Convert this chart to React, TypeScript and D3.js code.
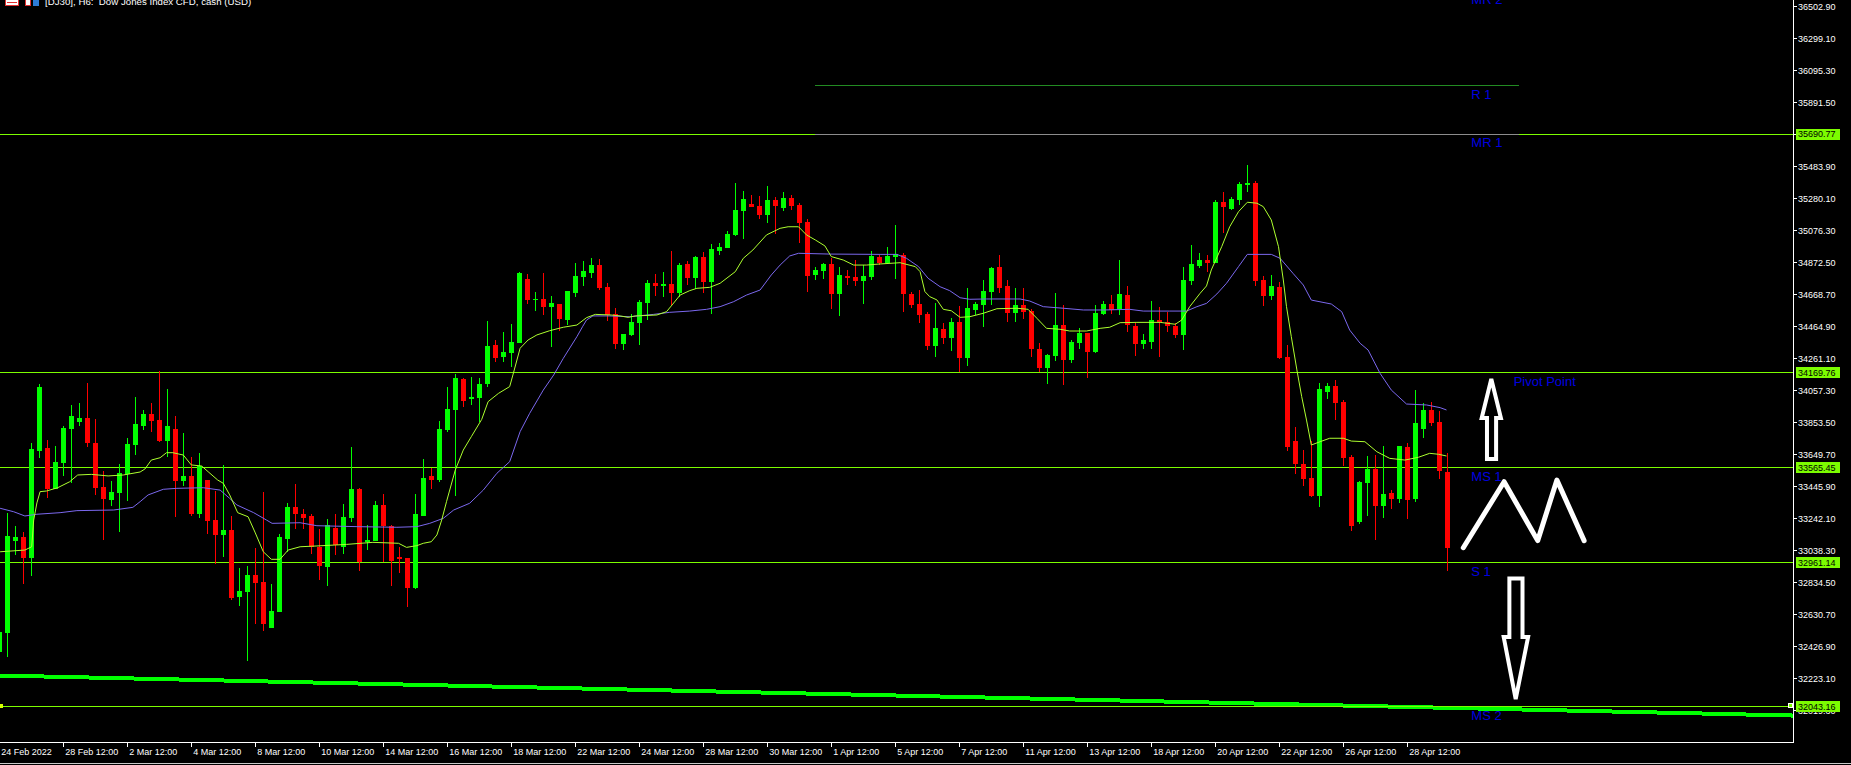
import * as d3 from "d3";

const W = 1851;
const H = 765;
const plotRight = 1793;
const plotBottom = 742;

// H6 candles, 24 Feb 2022 12:00 .. 29 Apr 2022
const opens = [
  32389, 32512, 33096, 33121, 32987, 33671, 33688, 33429, 33592, 33809,
  33854, 33879, 33720, 33440, 33357, 33401, 33522, 33707, 33828, 33904,
  33866, 33733, 33809, 33478, 33510, 33268, 33484, 33229, 33134, 33166,
  32739, 32771, 32879, 32835, 32542, 32643, 33108, 33312, 33268, 33255,
  33058, 32930, 33178, 33058, 33242, 33427, 33089, 33096, 33325, 33191,
  32994, 32987, 32796, 33255, 33510, 33484, 33803, 33930, 34127, 34000,
  34006, 34096, 34344, 34267, 34293, 34357, 34764, 34631, 34637, 34586,
  34605, 34503, 34675, 34777, 34802, 34853, 34713, 34541, 34350, 34408,
  34484, 34611, 34739, 34720, 34733, 34675, 34860, 34771, 34904, 34745,
  34943, 34962, 35045, 35197, 35242, 35229, 35172, 35267, 35216, 35280,
  35236, 35127, 34790, 34815, 34860, 34669, 34783, 34777, 34752, 34777,
  34904, 34866, 34904, 34917, 34669, 34605, 34541, 34338, 34446, 34389,
  34490, 34261, 34567, 34599, 34681, 34841, 34720, 34548, 34599, 34560,
  34318, 34197, 34274, 34471, 34248, 34357, 34420, 34299, 34541, 34605,
  34573, 34662, 34465, 34350, 34363, 34503, 34490, 34465, 34408, 34752,
  34847, 34885, 34866, 35255, 35210, 35267, 35363, 35376, 34758, 34656,
  34713, 34267, 33733, 33586, 33497, 33382, 34045, 34083, 33981, 33631,
  33217, 33465, 33554, 33318, 33401, 33363, 33694, 33363, 33809, 33930,
  33854, 33535,
];
const highs = [
  32542, 33272, 33191, 33153, 33720, 34096, 33739, 33700, 33828, 33962,
  33975, 34102, 33873, 33541, 33478, 33586, 33752, 34013, 33930, 33975,
  34178, 34064, 33892, 33784, 33631, 33656, 33484, 33414, 33580, 33255,
  32924, 32936, 33051, 33408, 32822, 33140, 33338, 33459, 33299, 33268,
  33172, 33236, 33268, 33331, 33694, 33433, 33198, 33350, 33395, 33198,
  33058, 32987, 33395, 33618, 33561, 33860, 34076, 34159, 34134, 34140,
  34134, 34497, 34376, 34427, 34478, 34809, 34796, 34681, 34802, 34656,
  34605, 34688, 34866, 34879, 34898, 34892, 34739, 34579, 34414, 34541,
  34631, 34758, 34796, 34809, 34943, 34866, 34879, 34911, 34936, 34987,
  34994, 35070, 35376, 35325, 35299, 35293, 35357, 35286, 35318, 35299,
  35248, 35146, 34841, 34866, 34898, 34841, 34822, 34885, 34853, 34943,
  34917, 34968, 35108, 34930, 34681, 34694, 34554, 34611, 34484, 34516,
  34592, 34707, 34618, 34758, 34841, 34917, 34758, 34707, 34707, 34573,
  34357, 34287, 34675, 34599, 34376, 34452, 34420, 34599, 34624, 34662,
  34885, 34720, 34484, 34414, 34624, 34586, 34554, 34484, 34841, 34981,
  34930, 34917, 35267, 35318, 35286, 35382, 35490, 35389, 34783, 34790,
  34745, 34344, 33822, 33675, 33733, 34102, 34102, 34121, 33994, 33643,
  33478, 33637, 33643, 33700, 33420, 33700, 33720, 34057, 33975, 33981,
  33923, 33656,
];
const lows = [
  32338, 32359, 33006, 32824, 32873, 33622, 33371, 33427, 33510, 33465,
  33828, 33696, 33389, 33102, 33319, 33153, 33350, 33643, 33803, 33790,
  33726, 33631, 33248, 33446, 33255, 33242, 33140, 32949, 32994, 32720,
  32682, 32331, 32567, 32522, 32542, 32643, 33026, 33172, 33172, 33013,
  32847, 32809, 33006, 33013, 33217, 32905, 33038, 33096, 32962, 32809,
  32892, 32675, 32790, 33255, 33427, 33471, 33790, 33382, 33949, 33962,
  33854, 34076, 34236, 34236, 34204, 34357, 34605, 34560, 34535, 34331,
  34433, 34471, 34650, 34720, 34771, 34694, 34497, 34318, 34312, 34401,
  34344, 34503, 34656, 34650, 34599, 34650, 34726, 34701, 34675, 34541,
  34917, 34962, 35038, 35019, 35223, 35146, 35121, 35051, 35197, 35204,
  34994, 34681, 34758, 34764, 34573, 34528, 34726, 34720, 34605, 34758,
  34853, 34866, 34764, 34554, 34579, 34484, 34312, 34267, 34350, 34306,
  34172, 34210, 34535, 34459, 34599, 34675, 34490, 34490, 34509, 34267,
  34172, 34096, 34242, 34089, 34229, 34318, 34134, 34293, 34535, 34541,
  34535, 34427, 34274, 34318, 34318, 34267, 34427, 34389, 34312, 34726,
  34834, 34809, 34866, 35057, 35204, 35236, 35318, 34720, 34592, 34631,
  34255, 33669, 33522, 33446, 33376, 33312, 34000, 33866, 33573, 33159,
  33204, 33255, 33102, 33242, 33299, 33338, 33236, 33344, 33752, 33828,
  33490, 32905,
];
const closes = [
  32516, 33127, 33121, 32987, 33682, 34076, 33427, 33599, 33815, 33892,
  33879, 33720, 33433, 33363, 33408, 33529, 33713, 33841, 33904, 33860,
  33733, 33828, 33478, 33510, 33268, 33573, 33223, 33134, 33166, 32733,
  32777, 32879, 32828, 32567, 32650, 33121, 33312, 33268, 33242, 33058,
  32936, 33198, 33070, 33248, 33427, 32962, 33102, 33325, 33191, 32968,
  32981, 32796, 33268, 33497, 33484, 33809, 33936, 34134, 33987, 34013,
  34096, 34338, 34261, 34299, 34363, 34802, 34631, 34637, 34586, 34611,
  34509, 34688, 34783, 34815, 34853, 34707, 34535, 34350, 34414, 34490,
  34618, 34739, 34720, 34733, 34675, 34853, 34771, 34904, 34745, 34955,
  34968, 35051, 35204, 35274, 35223, 35172, 35267, 35229, 35280, 35229,
  35121, 34783, 34822, 34860, 34669, 34790, 34771, 34752, 34783, 34911,
  34866, 34911, 34924, 34669, 34599, 34535, 34338, 34452, 34389, 34490,
  34261, 34579, 34605, 34688, 34834, 34707, 34548, 34599, 34554, 34318,
  34197, 34280, 34471, 34248, 34363, 34420, 34299, 34548, 34605, 34567,
  34669, 34471, 34350, 34376, 34503, 34490, 34465, 34408, 34758, 34860,
  34885, 34866, 35255, 35223, 35274, 35369, 35376, 34752, 34656, 34720,
  34261, 33694, 33586, 33490, 33382, 34064, 34083, 33975, 33624, 33191,
  33471, 33554, 33318, 33395, 33363, 33700, 33357, 33847, 33930, 33847,
  33541, 33051,
];

// moving averages: [bar, price]
const fastMA: [number, number][] = [
  [0.1, 33027], [3.2, 33038], [4.05, 33059], [4.3, 33229], [4.7, 33338], [5.1, 33410],
  [5.9, 33414], [7.3, 33435], [8.8, 33473], [9.8, 33516], [11.5, 33520], [13.6, 33510],
  [15.5, 33516], [17.6, 33535], [18.2, 33554], [19.0, 33611], [20.1, 33626], [20.9, 33658],
  [21.7, 33658], [23.0, 33643], [24.0, 33580], [25.3, 33573], [26.1, 33537], [27.3, 33484],
  [28.0, 33463], [28.8, 33389], [29.8, 33276], [31.1, 33250], [32.0, 33147], [33.0, 33027],
  [34.0, 32979], [35.1, 32979], [36.1, 33038], [37.6, 33059], [39.7, 33064], [43.4, 33074],
  [46.7, 33087], [49.9, 33081], [50.9, 33055], [52.2, 33066], [53.0, 33081], [54.0, 33091],
  [54.7, 33134], [55.3, 33229], [55.9, 33346], [57.0, 33548], [58.0, 33675], [59.0, 33760],
  [60.3, 33870], [61.1, 33983], [62.4, 34036], [63.8, 34079], [64.2, 34153], [65.1, 34323],
  [66.1, 34376], [67.2, 34408], [68.8, 34435], [70.5, 34457], [72.2, 34471], [73.4, 34518],
  [74.5, 34539], [76.5, 34535], [77.6, 34529], [78.6, 34520], [79.5, 34529], [82.2, 34535],
  [83.4, 34556], [84.1, 34599], [85.1, 34662], [86.3, 34690], [87.2, 34705], [88.8, 34711],
  [90.1, 34737], [92.0, 34811], [93.0, 34896], [94.2, 34949], [95.9, 35045], [97.6, 35087],
  [98.6, 35097], [99.9, 35097], [100.9, 35045], [102.0, 35013], [103.2, 34975], [104.0, 34907],
  [105.5, 34885], [106.8, 34853], [108.4, 34853], [110.1, 34860], [112.6, 34868], [114.5, 34843],
  [115.1, 34811], [115.7, 34684], [116.3, 34652], [117.2, 34631], [118.0, 34571], [119.0, 34562],
  [120.1, 34520], [121.3, 34524], [123.0, 34546], [124.7, 34575], [127.2, 34578], [128.6, 34571],
  [129.7, 34514], [130.9, 34450], [132.6, 34444], [133.8, 34433], [135.9, 34433], [137.6, 34450],
  [138.8, 34457], [140.1, 34486], [142.2, 34488], [145.1, 34488], [147.0, 34476], [147.8, 34503],
  [148.8, 34588], [150.1, 34673], [150.9, 34720], [151.5, 34822], [152.8, 34970], [153.8, 35097],
  [154.9, 35193], [156.0, 35253], [157.2, 35247], [158.0, 35225], [159.0, 35140], [159.9, 34970],
  [160.5, 34758], [160.9, 34588], [161.5, 34397], [162.2, 34185], [162.8, 34015], [163.4, 33866],
  [164.0, 33707], [165.1, 33728], [166.3, 33750], [168.0, 33750], [169.0, 33732], [170.7, 33728],
  [172.2, 33664], [173.8, 33622], [175.7, 33611], [177.4, 33629], [178.8, 33654], [179.9, 33648],
  [180.9, 33637],
];
const slowMA: [number, number][] = [
  [0.1, 33304], [1.8, 33282], [3.2, 33255], [4.7, 33266], [7.6, 33276], [9.7, 33289],
  [14.3, 33293], [16.7, 33310], [17.6, 33346], [18.6, 33389], [20.5, 33425], [22.2, 33431],
  [25.5, 33435], [27.6, 33420], [28.8, 33367], [29.7, 33325], [31.8, 33276], [33.4, 33229],
  [34.1, 33208], [37.6, 33212], [39.7, 33193], [44.7, 33187], [49.7, 33183], [52.2, 33187],
  [53.8, 33208], [55.5, 33240], [56.8, 33293], [58.8, 33336], [60.5, 33420], [62.2, 33527],
  [63.8, 33601], [65.1, 33792], [66.3, 33909], [68.0, 34057], [69.3, 34153], [70.5, 34259],
  [72.2, 34397], [72.9, 34460], [73.4, 34503], [74.2, 34529], [76.3, 34529], [78.8, 34524],
  [81.8, 34539], [83.8, 34552], [86.3, 34560], [88.4, 34571], [90.1, 34588], [91.8, 34620],
  [93.4, 34662], [95.1, 34694], [96.5, 34790], [97.6, 34853], [98.8, 34911], [99.9, 34928],
  [103.8, 34923], [110.1, 34921], [112.2, 34921], [113.4, 34896], [114.9, 34843], [116.1, 34769],
  [117.6, 34715], [118.8, 34690], [120.1, 34645], [121.3, 34635], [123.4, 34637], [127.6, 34637],
  [128.8, 34624], [130.5, 34588], [133.0, 34578], [135.5, 34567], [138.0, 34567], [141.3, 34571],
  [143.0, 34560], [146.3, 34560], [148.4, 34560], [149.7, 34588], [150.9, 34609], [152.2, 34669],
  [153.4, 34737], [154.9, 34843], [156.0, 34921], [159.0, 34921], [160.1, 34896], [161.7, 34801],
  [163.0, 34726], [164.0, 34630], [166.5, 34605], [167.8, 34556], [168.8, 34439], [170.1, 34355],
  [171.1, 34312], [172.6, 34163], [174.0, 34057], [175.9, 33968], [178.4, 33962], [180.1, 33945],
  [180.9, 33930],
];

// long trend line (thick)
const trendLine: [number, number][] = [[0, 32239], [224.2, 31984]];

// pivot levels
const levelNames = ["MR 2", "R 1", "MR 1", "Pivot Point", "MS 1", "S 1", "MS 2"];
const levelValues = [36602, 35998, 35690.77, 34169.76, 33565.45, 32961.14, 32043.16];
const levelLabelBar = [184, 184, 184, 189.3, 184, 184, 184];
const fullLines = [36602, 35690.77, 34169.76, 33565.45, 32961.14, 32043.16];
const tagLevels = [35690.77, 34169.76, 33565.45, 32961.14, 32043.16];
const shortLines = [
  { v: 35998, from: 102, to: 190, color: "#228B22" },
  { v: 35685, from: 102, to: 190, color: "#8c8c8c" },
];

const priceTicks = [
  36502.9, 36299.1, 36095.3, 35891.5, 35687.7, 35483.9, 35280.1, 35076.3, 34872.5,
  34668.7, 34464.9, 34261.1, 34057.3, 33853.5, 33649.7, 33445.9, 33242.1, 33038.3,
  32834.5, 32630.7, 32426.9, 32223.1, 32019.3,
];
const timeLabels = [
  "24 Feb 2022", "28 Feb 12:00", "2 Mar 12:00", "4 Mar 12:00", "8 Mar 12:00",
  "10 Mar 12:00", "14 Mar 12:00", "16 Mar 12:00", "18 Mar 12:00", "22 Mar 12:00",
  "24 Mar 12:00", "28 Mar 12:00", "30 Mar 12:00", "1 Apr 12:00", "5 Apr 12:00",
  "7 Apr 12:00", "11 Apr 12:00", "13 Apr 12:00", "18 Apr 12:00", "20 Apr 12:00",
  "22 Apr 12:00", "26 Apr 12:00", "28 Apr 12:00",
];
const barsPerLabel = 8;

// hand-drawn annotations, [bar, price]
const upArrow: [number, number][] = [
  [186.5, 34127], [187.7, 33879], [187.1, 33879], [187.1, 33618],
  [185.96, 33618], [185.96, 33879], [185.3, 33879],
];
const downArrow: [number, number][] = [
  [188.76, 32856], [190.4, 32856], [190.4, 32484], [191.1, 32484],
  [189.55, 32089], [188.05, 32484], [188.76, 32484],
];
const zigzag: [number, number][] = [
  [183.0, 33053], [188.1, 33473], [192.3, 33098], [194.7, 33484], [198.1, 33098],
];

const FONT = "'Liberation Sans', Arial, sans-serif";

export default function App() {
  const x = d3.scaleLinear().domain([0, 181]).range([-0.7, 1447.3]);
  const y = d3.scaleLinear().domain([32223.1, 36502.9]).range([678, 6]);

  const line = d3
    .line<[number, number]>()
    .x((d) => x(d[0]))
    .y((d) => y(d[1]));

  const fmt = d3.format(".2f");

  return (
    <div style={{ position: "absolute", left: 0, top: 0, width: W, height: H, background: "#000" }}>
      <svg width={W} height={H} style={{ display: "block" }} fontFamily={FONT}>
        <rect width={W} height={H} fill="#000" />
        <defs>
          <clipPath id="plot">
            <rect x={0} y={0} width={plotRight} height={plotBottom} />
          </clipPath>
        </defs>

        <g clipPath="url(#plot)">
          {/* thick trend line */}
          <path
            d={line(trendLine) || ""}
            stroke="#00FF00"
            strokeWidth={4}
            fill="none"
            shapeRendering="crispEdges"
          />

          {/* pivot lines */}
          {fullLines.map((v, k) => (
            <line
              key={"fl" + k}
              x1={0}
              x2={plotRight}
              y1={Math.round(y(v)) + 0.5}
              y2={Math.round(y(v)) + 0.5}
              stroke="#7CFC00"
              shapeRendering="crispEdges"
            />
          ))}
          {shortLines.map((s, k) => (
            <line
              key={"sl" + k}
              x1={x(s.from)}
              x2={x(s.to)}
              y1={Math.round(y(s.v)) + 0.5}
              y2={Math.round(y(s.v)) + 0.5}
              stroke={s.color}
              shapeRendering="crispEdges"
            />
          ))}

          {/* candles */}
          {opens.map((o, i) => {
            const c = closes[i];
            const up = c >= o;
            const col = up ? "#00FF00" : "#FF0000";
            const xc = Math.round(x(i));
            const yt = Math.round(y(Math.max(o, c)));
            const yb = Math.round(y(Math.min(o, c)));
            const yh = Math.round(y(highs[i]));
            const yl = Math.round(y(lows[i]));
            return (
              <g key={"c" + i} shapeRendering="crispEdges">
                <rect x={xc} y={yh} width={1} height={Math.max(1, yl - yh)} fill={col} />
                <rect x={xc - 2} y={yt} width={5} height={Math.max(1, yb - yt)} fill={col} />
              </g>
            );
          })}

          {/* moving averages */}
          <path d={line(slowMA) || ""} stroke="#7B68EE" strokeWidth={1} fill="none" />
          <path d={line(fastMA) || ""} stroke="#ADFF2F" strokeWidth={1} fill="none" />

          {/* level labels */}
          {levelNames.map((n, k) => (
            <text
              key={"ll" + k}
              x={x(levelLabelBar[k])}
              y={y(levelValues[k]) + 13.5}
              fontSize={13}
              fill="#0000E0"
            >
              {n}
            </text>
          ))}

          {/* annotations */}
          <path
            d={(line(upArrow) || "") + "Z"}
            stroke="#fff"
            strokeWidth={4}
            fill="none"
            strokeLinejoin="miter"
          />
          <path
            d={(line(downArrow) || "") + "Z"}
            stroke="#fff"
            strokeWidth={4}
            fill="none"
            strokeLinejoin="miter"
          />
          <path
            d={line(zigzag) || ""}
            stroke="#fff"
            strokeWidth={5}
            fill="none"
            strokeLinejoin="round"
            strokeLinecap="round"
          />

          <rect x={0} y={Math.round(y(32043.16)) - 2} width={3} height={4} fill="#d4ff00" />
        </g>

        {/* frame */}
        <line x1={plotRight + 0.5} x2={plotRight + 0.5} y1={0} y2={plotBottom + 1} stroke="#fff" shapeRendering="crispEdges" />
        <line x1={0} x2={plotRight + 1} y1={plotBottom + 0.5} y2={plotBottom + 0.5} stroke="#fff" shapeRendering="crispEdges" />
        <line x1={0} x2={W} y1={763.5} y2={763.5} stroke="#c8c8c8" shapeRendering="crispEdges" />

        {/* price axis */}
        {priceTicks.map((v, k) => (
          <g key={"pt" + k}>
            <line
              x1={plotRight}
              x2={plotRight + 4}
              y1={Math.round(y(v)) + 0.5}
              y2={Math.round(y(v)) + 0.5}
              stroke="#fff"
              shapeRendering="crispEdges"
            />
            <text x={plotRight + 5} y={y(v) + 3.5} fontSize={9} fill="#fff">
              {fmt(v)}
            </text>
          </g>
        ))}

        {/* price tags */}
        {tagLevels.map((v, k) => (
          <g key={"tg" + k}>
            <rect x={plotRight + 3} y={Math.round(y(v)) - 5} width={44} height={11} fill="#7CFC00" />
            <text x={plotRight + 5} y={y(v) + 3.5} fontSize={9} fill="#000">
              {fmt(v)}
            </text>
          </g>
        ))}
        <rect
          x={plotRight - 4.5}
          y={Math.round(y(32043.16)) - 2.5}
          width={4}
          height={4}
          fill="#7CFC00"
          stroke="#fff"
          strokeWidth={1}
        />

        {/* time axis */}
        {timeLabels.map((t, k) => {
          const xi = x(k * barsPerLabel);
          return (
            <g key={"tl" + k}>
              {k > 0 && (
                <line
                  x1={Math.round(xi) + 0.5}
                  x2={Math.round(xi) + 0.5}
                  y1={plotBottom}
                  y2={plotBottom + 5}
                  stroke="#fff"
                  shapeRendering="crispEdges"
                />
              )}
              <text x={xi + 2} y={755} fontSize={9} fill="#fff">
                {t}
              </text>
            </g>
          );
        })}

        {/* title */}
        <g shapeRendering="crispEdges">
          <rect x={5.5} y={-3.5} width={13} height={9} fill="#fff" stroke="#e03030" />
          <rect x={7} y={-1} width={10} height={1} fill="#e03030" />
          <rect x={7} y={2} width={10} height={1} fill="#e03030" />
          <rect x={25.5} y={-3.5} width={5} height={9} fill="#fff" stroke="#e03030" />
          <rect x={33} y={-3} width={6} height={9} fill="#2b7bd6" />
        </g>
        <text x={45} y={5} fontSize={9.7} fill="#fff" style={{ whiteSpace: "pre" }}>
          {"[DJ30], H6:  Dow Jones Index CFD, cash (USD)"}
        </text>
      </svg>
    </div>
  );
}
